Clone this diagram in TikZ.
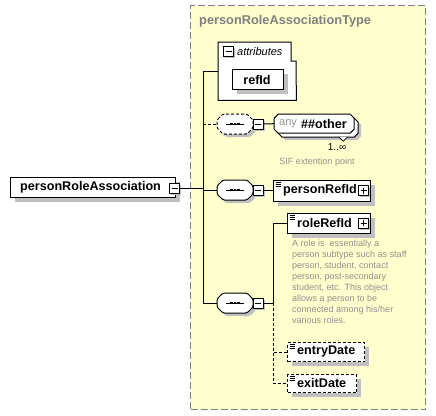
\documentclass[tikz,border=0pt]{standalone}
\usepackage{fontspec}
\setmainfont{Liberation Sans}
\usetikzlibrary{calc,shadows}
\definecolor{bgy}{RGB}{255,255,206}
\definecolor{bord}{RGB}{128,128,128}
\definecolor{shad}{RGB}{192,192,192}
\definecolor{txtg}{RGB}{145,145,140}
\tikzset{
  every node/.style={inner sep=0pt},
  shadowed/.style={drop shadow={shadow xshift=4pt, shadow yshift=-4pt, fill=shad, opacity=1}},
  elbox/.style={draw, fill=white, line width=1pt, anchor=north west, shadowed},
  optbox/.style={elbox, dash pattern=on 3pt off 2pt},
  pmbox/.style={draw, fill=white, line width=1pt, minimum size=10pt, drop shadow={shadow xshift=1.5pt, shadow yshift=-1.5pt, fill=shad, opacity=1}},
  eltext/.style={anchor=west, font=\bfseries\fontsize{12.6}{14}\selectfont},
  desc/.style={anchor=north west, align=left, text=txtg, font=\fontsize{9}{11}\selectfont},
  conn/.style={line width=1pt},
  optconn/.style={line width=1pt, dash pattern=on 3pt off 2pt},
}
\newcommand\pmminus[2]{\node[pmbox] (#1) at (#2) {};
  \draw[line width=1pt] ($(#1.center)+(-3,0)$) -- ($(#1.center)+(3,0)$);}
\newcommand\pmplus[2]{\pmminus{#1}{#2}
  \draw[line width=1pt] ($(#1.center)+(0,-3)$) -- ($(#1.center)+(0,3)$);}
\newcommand\elicon[1]{%
  \foreach \k in {2,4,6} \draw[line width=0.7pt] ($(#1.north west)+(2.5,\k)$) -- ++(5.5,0);}
\newcommand\seqcomp[3]{%
  \node[minimum width=36pt, minimum height=20pt] (#1) at (#2) {};
  \begin{scope}[shift={(#1.center)}]
    \begin{scope}[shift={(3,3)}]
      \fill[shad, rounded corners=1.5pt] (-18,-4) -- (-12,-10) -- (12,-10) -- (18,-4) -- (18,4) -- (12,10) -- (-12,10) -- (-18,4) -- cycle;
    \end{scope}
    \draw[#3, fill=white, line width=1pt, rounded corners=1.5pt] (-18,-4) -- (-12,-10) -- (12,-10) -- (18,-4) -- (18,4) -- (12,10) -- (-12,10) -- (-18,4) -- cycle;
    \draw[line width=1pt] (-9,0) -- (9,0);
    \foreach \d in {-3.5,0,3.5} \fill (\d-1.4,-1.4) rectangle (\d+1.4,1.4);
  \end{scope}}
\begin{document}
\begin{tikzpicture}[x=1pt,y=-1pt]
\useasboundingbox (0,0) rectangle (436,415);
% container
\node[draw=bord, fill=bgy, dash pattern=on 7pt off 3pt, line width=1pt,
      minimum width=235pt, minimum height=404pt, anchor=north west] (typebox) at (190,5) {};
\node[anchor=west, text=bord, font=\bfseries\fontsize{12.8}{14}\selectfont] (title) at (199,21) {personRoleAssociationType};

% attributes
\node[minimum width=78pt, minimum height=58pt, anchor=north west] (attr) at (218,42) {};
\draw[line width=1pt, fill=white] (attr.north west) -- ++(73,0) -- ++(0,19) -- ++(5,0) -- (attr.south east) -- (attr.south west) -- cycle;
\pmminus{attrm}{228.5,51.5}
\node[anchor=west, font=\itshape\fontsize{11}{13}\selectfont] (attrlabel) at (237,51.5) {attributes};
\node[elbox, minimum width=51pt, minimum height=20pt] (refId) at (232,69) {};
\node[font=\bfseries\fontsize{12.6}{14}\selectfont] (refIdt) at ($(refId.center)+(-1,0)$) {refId};

% main element
\node[elbox, minimum width=165pt, minimum height=20pt] (main) at (10,177) {};
\node[eltext] (maint) at (20,187) {personRoleAssociation};
\pmminus{mainm}{174.5,188}

% compositors
\seqcomp{c1}{235,124}{dash pattern=on 3pt off 2pt}
\pmminus{c1m}{258,124}
\seqcomp{c2}{235,190}{}
\pmminus{c2m}{258,190}
\seqcomp{c3}{235,303}{}
\pmminus{c3m}{258,303}

% any ##other
\node[minimum width=80pt, minimum height=19pt, anchor=north west] (anyel) at (274,114) {};
\begin{scope}[shift={(anyel.center)}]
  \begin{scope}[shift={(7,7)}]
    \fill[shad] (-40,-5.5) -- (-36,-9.5) -- (36,-9.5) -- (40,-5.5) -- (40,5.5) -- (36,9.5) -- (-36,9.5) -- (-40,5.5) -- cycle;
  \end{scope}
  \begin{scope}[shift={(4,4)}]
    \draw[line width=1pt, fill=white] (-40,-5.5) -- (-36,-9.5) -- (36,-9.5) -- (40,-5.5) -- (40,5.5) -- (36,9.5) -- (-36,9.5) -- (-40,5.5) -- cycle;
    \draw[line width=0.8pt, fill=white] (21,9.5) -- (25,13.5) -- (29,9.5);
  \end{scope}
  \draw[line width=1pt, fill=white] (-40,-5.5) -- (-36,-9.5) -- (36,-9.5) -- (40,-5.5) -- (40,5.5) -- (36,9.5) -- (-36,9.5) -- (-40,5.5) -- cycle;
\end{scope}
\node[anchor=west, text=txtg, font=\fontsize{11}{13}\selectfont] (anyt) at (279,123.5) {any};
\node[eltext] (othert) at (301,123.5) {\#\#other};
\node[font=\fontsize{10}{12}\selectfont] (occ) at (337,147) {1..∞};
\node[text=txtg, font=\fontsize{9}{11}\selectfont] (sif) at (317,162.5) {SIF extention point};

% personRefId
\node[elbox, minimum width=97pt, minimum height=21pt] (personRefId) at (273,180) {};
\elicon{personRefId}
\node[eltext] (personRefIdt) at (283,190.5) {personRefId};
\pmplus{personRefIdp}{363.5,190.5}

% roleRefId
\node[elbox, minimum width=83pt, minimum height=20pt] (roleRefId) at (287,213) {};
\elicon{roleRefId}
\node[eltext] (roleRefIdt) at (297,223) {roleRefId};
\pmplus{roleRefIdp}{363.5,223}
\node[desc] (roledesc) at (292,240) {A role is\ \ essentially a\\person subtype such as staff\\person, student, contact\\person, post-secondary\\student, etc. This object\\allows a person to be\\connected among his/her\\various roles.};

% entryDate / exitDate
\node[optbox, minimum width=77pt, minimum height=19pt] (entryDate) at (287,342) {};
\elicon{entryDate}
\node[eltext] (entryDatet) at (297,351.5) {entryDate};
\node[optbox, minimum width=69pt, minimum height=18pt] (exitDate) at (287,374) {};
\elicon{exitDate}
\node[eltext] (exitDatet) at (297,383) {exitDate};

% connectors
\coordinate (tTop) at (203,71);
\coordinate (tBot) at (203,303);
\coordinate (j3) at (273,303);
\draw[conn] (attr.west |- tTop) -- (tTop) -- (tBot) -- (c3.west);
\draw[conn] (mainm.east) -- (mainm.east -| tTop);
\draw[optconn] (tTop |- c1.west) -- (c1.west);
\draw[conn] (tTop |- c2.west) -- (c2.west);
\draw[conn] (c1m.east) -- (anyel.west);
\draw[conn] (c2m.east) -- (personRefId.west |- c2m.east);
\draw[conn] (c3m.east) -- (j3);
\draw[conn] (j3) |- (roleRefId.west);
\draw[optconn] (j3) |- (entryDate.west);
\draw[optconn] (j3) |- (exitDate.west);
\end{tikzpicture}
\end{document}
